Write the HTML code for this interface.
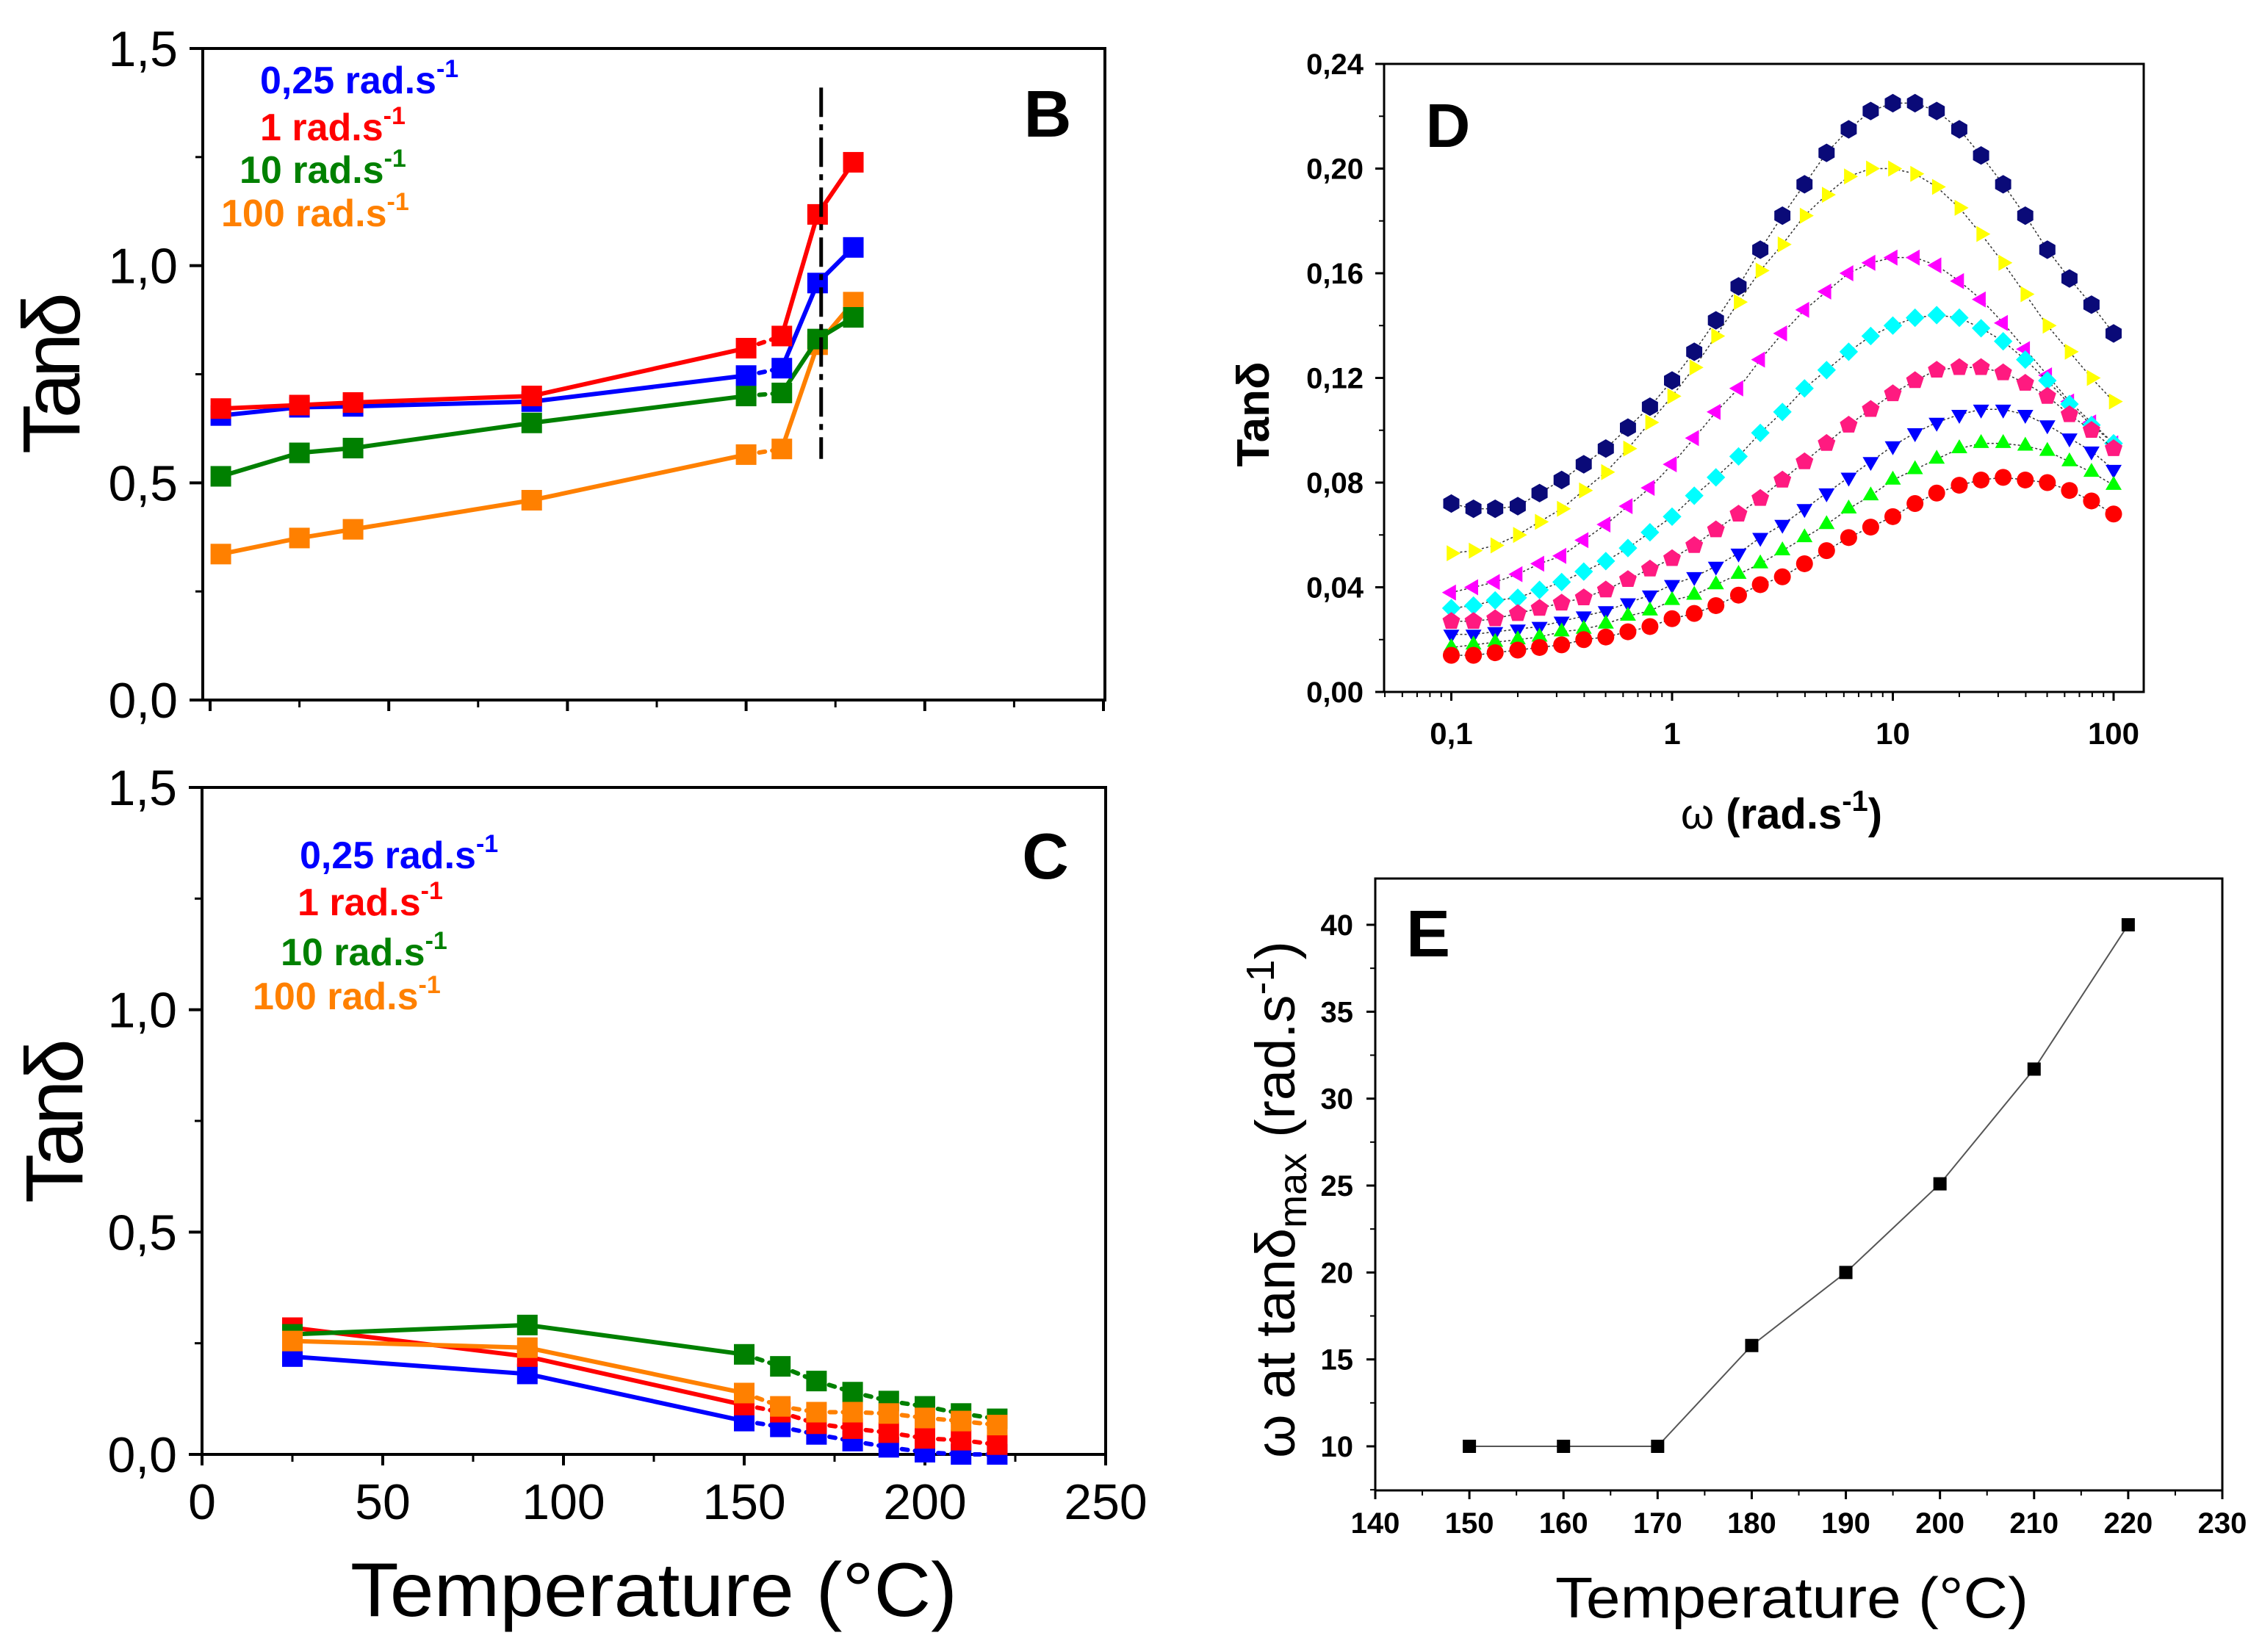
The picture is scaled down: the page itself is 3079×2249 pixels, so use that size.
<!DOCTYPE html>
<html><head><meta charset="utf-8"><style>
html,body{margin:0;padding:0;background:#fff}
svg{display:block}
text{font-family:"Liberation Sans",sans-serif}
.nar{font-family:"Liberation Sans Narrow","Liberation Sans",sans-serif}
</style></head><body>
<svg id="fig" xmlns="http://www.w3.org/2000/svg" width="3079" height="2249" viewBox="0 0 3079 2249">
<rect width="3079" height="2249" fill="#fff"/>
<g id="gB"></g>
<g id="gC"></g>
<g id="gD"></g>
<g id="gE"></g>
</svg>
<script>
// ---- Panel B data ----
const bTemps=[3,25,40,90,150,160,170,180];
const bBlue=[0.655,0.674,0.676,0.687,0.747,0.764,0.96,1.042];
const bRed=[0.671,0.679,0.685,0.70,0.81,0.838,1.118,1.238];
const bGreen=[0.515,0.569,0.58,0.638,0.70,0.707,0.831,0.881];
const bOrange=[0.336,0.373,0.393,0.46,0.565,0.578,0.818,0.916];
const bcYTicks=[0,0.5,1.0,1.5];
const bcYLabels=["0,0","0,5","1,0","1,5"];
const bcXTicks=[0,50,100,150,200,250];
const bcXLabels=["0","50","100","150","200","250"];
const bVLine=[171,1.41,0.555];
// ---- Panel C data ----
const cTemps=[25,90,150,160,170,180,190,200,210,220];
const cBlue=[0.22,0.181,0.075,0.062,0.045,0.03,0.016,0.005,0.0,0.0];
const cRed=[0.285,0.22,0.111,0.095,0.069,0.058,0.049,0.036,0.032,0.022];
const cGreen=[0.27,0.291,0.225,0.198,0.165,0.14,0.12,0.108,0.092,0.08];
const cOrange=[0.255,0.24,0.138,0.108,0.095,0.095,0.092,0.082,0.075,0.066];
// ---- Panel D data ----
const dOmega=[0.1,0.126,0.158,0.2,0.251,0.316,0.398,0.501,0.631,0.794,1,1.26,1.58,2,2.51,3.16,3.98,5.01,6.31,7.94,10,12.6,15.8,20,25.1,31.6,39.8,50.1,63.1,79.4,100];
const dNavy=[0.072,0.070,0.070,0.071,0.076,0.081,0.087,0.093,0.101,0.109,0.119,0.130,0.142,0.155,0.169,0.182,0.194,0.206,0.215,0.222,0.225,0.225,0.222,0.215,0.205,0.194,0.182,0.169,0.158,0.148,0.137];
const dYellow=[0.053,0.054,0.056,0.060,0.065,0.070,0.077,0.084,0.093,0.103,0.113,0.124,0.136,0.149,0.161,0.171,0.182,0.190,0.197,0.200,0.200,0.198,0.193,0.185,0.175,0.164,0.152,0.140,0.130,0.120,0.111];
const dMagenta=[0.038,0.040,0.042,0.045,0.049,0.052,0.058,0.064,0.071,0.078,0.087,0.097,0.107,0.116,0.127,0.137,0.146,0.153,0.160,0.164,0.166,0.166,0.163,0.157,0.150,0.141,0.131,0.121,0.111,0.103,0.095];
const dCyan=[0.032,0.033,0.035,0.036,0.039,0.042,0.046,0.050,0.055,0.061,0.067,0.075,0.082,0.090,0.099,0.107,0.116,0.123,0.130,0.136,0.140,0.143,0.144,0.143,0.139,0.134,0.127,0.119,0.110,0.102,0.095];
const dPink=[0.027,0.027,0.028,0.030,0.032,0.034,0.036,0.039,0.043,0.047,0.051,0.056,0.062,0.068,0.074,0.081,0.088,0.095,0.102,0.108,0.114,0.119,0.123,0.124,0.124,0.122,0.118,0.113,0.106,0.100,0.093];
const dBlue=[0.022,0.022,0.023,0.024,0.025,0.027,0.029,0.031,0.034,0.037,0.041,0.044,0.048,0.053,0.059,0.064,0.070,0.076,0.082,0.088,0.094,0.099,0.103,0.106,0.108,0.108,0.106,0.102,0.097,0.092,0.085];
const dGreen=[0.017,0.018,0.019,0.020,0.021,0.023,0.024,0.026,0.029,0.031,0.035,0.037,0.041,0.045,0.049,0.054,0.059,0.064,0.070,0.075,0.081,0.085,0.089,0.093,0.095,0.095,0.094,0.092,0.088,0.084,0.079];
const dRed=[0.014,0.014,0.015,0.016,0.017,0.018,0.020,0.021,0.023,0.025,0.028,0.030,0.033,0.037,0.041,0.044,0.049,0.054,0.059,0.063,0.067,0.072,0.076,0.079,0.081,0.082,0.081,0.080,0.077,0.073,0.068];
const dYTicks=[0,0.04,0.08,0.12,0.16,0.20,0.24];
const dYLabels=["0,00","0,04","0,08","0,12","0,16","0,20","0,24"];
const dXTicks=[0.1,1,10,100];
const dXLabels=["0,1","1","10","100"];
// ---- Panel E data ----
const eTemps=[150,160,170,180,190,200,210,220];
const eOmega=[10,10,10,15.8,20,25.1,31.7,40];
const eXTicks=[140,150,160,170,180,190,200,210,220,230];
const eYTicks=[10,15,20,25,30,35,40];

const NS="http://www.w3.org/2000/svg";
function mk(parent,tag,attrs,txt){const e=document.createElementNS(NS,tag);for(const k in attrs)e.setAttribute(k,attrs[k]);if(txt!==undefined)e.textContent=txt;parent.appendChild(e);return e;}

// scales
const xB=t=>286+t*(1502-286)/250, yB=v=>953-v*(953-66)/1.5;
const xC=t=>275+t*(1505-275)/250, yC=v=>1980-v*(1980-1072)/1.5;
const xD=w=>2276+Math.log10(w)*300.5, yD=v=>942-v*(942-87)/0.24;
const xE=t=>1872+(t-140)*(3025-1872)/90, yE=v=>1969-(v-10)*(1969-1259)/30;

function legend(g,x,y,txt,col,name){
  const t=mk(g,'text',{x:x,y:y,'font-size':52,'font-weight':'bold',fill:col});
  
  
  mk(t,'tspan',{},txt);
  mk(t,'tspan',{dy:-22,'font-size':34},'-1');
}

function tanPanel(g,xs,ys,left,right,top,bottom,xTicksShow,temps,series,dashFrom,dashTo){
  const fr=mk(g,'rect',{x:left,y:top,width:right-left,height:bottom-top,fill:'none',stroke:'#000','stroke-width':4});
  
  
  bcYTicks.forEach((v,i)=>{
    const tk=mk(g,'line',{x1:left-18,x2:left,y1:ys(v),y2:ys(v),stroke:'#000','stroke-width':4});
    
    
    if(i<3){const m=mk(g,'line',{x1:left-10,x2:left,y1:ys(v+0.25),y2:ys(v+0.25),stroke:'#000','stroke-width':3});
    
    }
    const lb=mk(g,'text',{x:left-34,y:ys(v)+24,'font-size':68,'text-anchor':'end',class:'nar'},bcYLabels[i]);
    
    
  });
  bcXTicks.forEach((t,i)=>{
    const tk=mk(g,'line',{x1:xs(t),x2:xs(t),y1:bottom,y2:bottom+15,stroke:'#000','stroke-width':4});
    
    
    if(t<250){const m=mk(g,'line',{x1:xs(t+25),x2:xs(t+25),y1:bottom,y2:bottom+10,stroke:'#000','stroke-width':3});
    
    }
    if(xTicksShow){const lb=mk(g,'text',{x:xs(t),y:bottom+88,'font-size':68,'text-anchor':'middle',class:'nar'},bcXLabels[i]);
    
    }
  });
  series.forEach(s=>{
    const sg=mk(g,'g',{});
    
    
    for(let i=0;i<temps.length-1;i++){
      const dashed=i>=dashFrom&&i<dashTo;
      const ln=mk(sg,'line',{x1:xs(temps[i]),y1:ys(s.vals[i]),x2:xs(temps[i+1]),y2:ys(s.vals[i+1]),stroke:s.col,'stroke-width':6,'stroke-dasharray':dashed?'8 10':'none','stroke-linecap':dashed?'round':'butt'});
      
      
    }
    temps.forEach((t,i)=>{
      const r=mk(sg,'rect',{x:xs(t)-14,y:ys(s.vals[i])-14,width:28,height:28,fill:s.col});
      
      
    });
  });
}

// Panel B
const gB=document.getElementById('gB');
tanPanel(gB,xB,yB,276,1504,66,953,false,bTemps,[
 {name:'100-rad',vals:bOrange,col:'#ff8000'},
 {name:'10-rad',vals:bGreen,col:'#008000'},
 {name:'0-25-rad',vals:bBlue,col:'#0000ff'},
 {name:'1-rad',vals:bRed,col:'#ff0000'}],4,5);
const vl=mk(gB,'line',{x1:xB(bVLine[0]),x2:xB(bVLine[0]),y1:yB(bVLine[1]),y2:yB(bVLine[2]),stroke:'#000','stroke-width':5,'stroke-dasharray':'40 10 8 10'});


legend(gB,354,127,'0,25 rad.s','#0000ff','legend-0-25');
legend(gB,354,191,'1 rad.s','#ff0000','legend-1');
legend(gB,326,249,'10 rad.s','#008000','legend-10');
legend(gB,301,308,'100 rad.s','#ff8000','legend-100');
let t=mk(gB,'text',{x:1426,y:186,'font-size':90,'font-weight':'bold','text-anchor':'middle'},'B');


t=mk(gB,'text',{transform:'translate(108,508) rotate(-90)','font-size':110,'text-anchor':'middle',textLength:220},'Tanδ');



// Panel C
const gC=document.getElementById('gC');
tanPanel(gC,xC,yC,275,1505,1072,1980,true,cTemps,[
 {name:'0-25-rad',vals:cBlue,col:'#0000ff'},
 {name:'1-rad',vals:cRed,col:'#ff0000'},
 {name:'10-rad',vals:cGreen,col:'#008000'},
 {name:'100-rad',vals:cOrange,col:'#ff8000'}],2,20);
legend(gC,408,1182,'0,25 rad.s','#0000ff','legend-0-25');
legend(gC,405,1246,'1 rad.s','#ff0000','legend-1');
legend(gC,382,1314,'10 rad.s','#008000','legend-10');
legend(gC,344,1374,'100 rad.s','#ff8000','legend-100');
t=mk(gC,'text',{x:1423,y:1196,'font-size':88,'font-weight':'bold','text-anchor':'middle'},'C');


t=mk(gC,'text',{transform:'translate(112,1526) rotate(-90)','font-size':110,'text-anchor':'middle',textLength:224},'Tanδ');


t=mk(gC,'text',{x:890,y:2200,'font-size':104,'text-anchor':'middle',textLength:826,lengthAdjust:'spacingAndGlyphs'},'Temperature (°C)');



// Panel D
const gD=document.getElementById('gD');
const dL=1884,dR=2918,dT=87,dB=942;
t=mk(gD,'rect',{x:dL,y:dT,width:dR-dL,height:dB-dT,fill:'none',stroke:'#000','stroke-width':3});


dYTicks.forEach((v,i)=>{
  const tk=mk(gD,'line',{x1:dL-12,x2:dL,y1:yD(v),y2:yD(v),stroke:'#000','stroke-width':3});
  
  
  if(i<6){const m=mk(gD,'line',{x1:dL-7,x2:dL,y1:yD(v+0.02),y2:yD(v+0.02),stroke:'#000','stroke-width':2});
  
  }
  const lb=mk(gD,'text',{x:1856,y:yD(v)+14,'font-size':40,'font-weight':'bold','text-anchor':'end',class:'nar'},dYLabels[i]);
  
  
});
[0.01,0.1,1,10,100].forEach(dec=>{
  for(let k=1;k<10;k++){const w=dec*k;const x=xD(w);if(x<dL||x>dR)continue;
    const tk=mk(gD,'line',{x1:x,x2:x,y1:dB,y2:dB+(k===1?12:7),stroke:'#000','stroke-width':k===1?3:2});
    
    }
});
dXTicks.forEach((w,i)=>{
  const lb=mk(gD,'text',{x:xD(w),y:1013,'font-size':42,'font-weight':'bold','text-anchor':'middle',class:'nar'},dXLabels[i]);
  
  
});
function shape(g,kind,cx,cy,col){
  const r=11.5;let pts;
  if(kind==='circle'){return mk(g,'circle',{cx:cx,cy:cy,r:r,fill:col});}
  const poly=(n,rot)=>{const a=[];for(let k=0;k<n;k++){const th=rot+k*2*Math.PI/n;a.push((cx+r*1.1*Math.cos(th)).toFixed(1)+','+(cy+r*1.1*Math.sin(th)).toFixed(1));}return a.join(' ');};
  if(kind==='hex')pts=poly(6,Math.PI/2);
  else if(kind==='right')pts=poly(3,0);
  else if(kind==='left')pts=poly(3,Math.PI);
  else if(kind==='diamond')pts=poly(4,0);
  else if(kind==='pent')pts=poly(5,-Math.PI/2);
  else if(kind==='down')pts=poly(3,Math.PI/2);
  else if(kind==='up')pts=poly(3,-Math.PI/2);
  return mk(g,'polygon',{points:pts,fill:col});
}
[
 {name:'series-1',vals:dNavy,col:'#0a0a78',kind:'hex'},
 {name:'series-2',vals:dYellow,col:'#ffff00',kind:'right'},
 {name:'series-3',vals:dMagenta,col:'#ff00ff',kind:'left'},
 {name:'series-4',vals:dCyan,col:'#00ffff',kind:'diamond'},
 {name:'series-5',vals:dPink,col:'#ff1a80',kind:'pent'},
 {name:'series-6',vals:dBlue,col:'#0000ff',kind:'down'},
 {name:'series-7',vals:dGreen,col:'#00ff00',kind:'up'},
 {name:'series-8',vals:dRed,col:'#ff0000',kind:'circle'}
].forEach(s=>{
  const sg=mk(gD,'g',{});
  
  
  const pl=mk(sg,'polyline',{points:dOmega.map((w,i)=>xD(w).toFixed(1)+','+yD(s.vals[i]).toFixed(1)).join(' '),fill:'none',stroke:'#333','stroke-width':1.5,'stroke-dasharray':'3 3'});
  
  
  dOmega.forEach((w,i)=>{
    const m=shape(sg,s.kind,xD(w),yD(s.vals[i]),s.col);
    
    
  });
});
t=mk(gD,'text',{x:1971,y:200,'font-size':84,'font-weight':'bold','text-anchor':'middle'},'D');


t=mk(gD,'text',{transform:'translate(1727,564) rotate(-90)','font-size':62,'font-weight':'bold','text-anchor':'middle'},'Tanδ');


t=mk(gD,'text',{x:2425,y:1128,'font-size':58,'font-weight':'bold','text-anchor':'middle'});


mk(t,'tspan',{'font-weight':'normal'},'ω ');mk(t,'tspan',{},'(rad.s');mk(t,'tspan',{dy:-24,'font-size':40},'-1');mk(t,'tspan',{dy:24},')');

// Panel E
const gE=document.getElementById('gE');
const eL=1872,eR=3025,eT=1196,eB=2029;
t=mk(gE,'rect',{x:eL,y:eT,width:eR-eL,height:eB-eT,fill:'none',stroke:'#000','stroke-width':3});


eXTicks.forEach(v=>{
  const tk=mk(gE,'line',{x1:xE(v),x2:xE(v),y1:eB,y2:eB+12,stroke:'#000','stroke-width':3});
  
  
  if(v<230){const m=mk(gE,'line',{x1:xE(v+5),x2:xE(v+5),y1:eB,y2:eB+7,stroke:'#000','stroke-width':2});
  
  }
  const lb=mk(gE,'text',{x:xE(v),y:2087,'font-size':40,'font-weight':'bold','text-anchor':'middle',class:'nar'},String(v));
  
  
});
eYTicks.forEach(v=>{
  const tk=mk(gE,'line',{x1:eL-12,x2:eL,y1:yE(v),y2:yE(v),stroke:'#000','stroke-width':3});
  
  
  const m=mk(gE,'line',{x1:eL-7,x2:eL,y1:yE(v-2.5),y2:yE(v-2.5),stroke:'#000','stroke-width':2});
  
  
  const lb=mk(gE,'text',{x:1842,y:yE(v)+14,'font-size':40,'font-weight':'bold','text-anchor':'end',class:'nar'},String(v));
  
  
});
t=mk(gE,'polyline',{points:eTemps.map((v,i)=>xE(v).toFixed(1)+','+yE(eOmega[i]).toFixed(1)).join(' '),fill:'none',stroke:'#555','stroke-width':2});


eTemps.forEach((v,i)=>{
  const r=mk(gE,'rect',{x:xE(v)-9,y:yE(eOmega[i])-9,width:18,height:18,fill:'#000'});
  
  
});
t=mk(gE,'text',{x:1944,y:1302,'font-size':90,'font-weight':'bold','text-anchor':'middle'},'E');


t=mk(gE,'text',{x:2439,y:2202,'font-size':78,'text-anchor':'middle',textLength:644,lengthAdjust:'spacingAndGlyphs'},'Temperature (°C)');


t=mk(gE,'text',{transform:'translate(1762,1633) rotate(-90)','font-size':76,'text-anchor':'middle'});


mk(t,'tspan',{},'ω at tanδ');mk(t,'tspan',{dy:16,'font-size':54},'max');mk(t,'tspan',{dy:-16},' (rad.s');mk(t,'tspan',{dy:-28,'font-size':54},'-1');mk(t,'tspan',{dy:28},')');
</script>
</body></html>
